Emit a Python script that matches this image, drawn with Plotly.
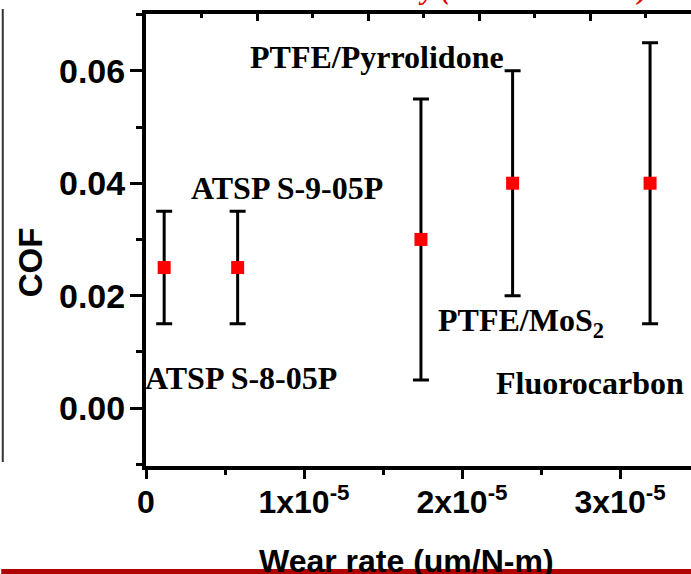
import plotly.graph_objects as go

# ---- data ----
materials = ["ATSP S-8-05P", "ATSP S-9-05P", "PTFE/Pyrrolidone", "PTFE/MoS2", "Fluorocarbon"]
wear_rate = [1.15e-6, 5.8e-6, 1.74e-5, 2.32e-5, 3.19e-5]
cof = [0.025, 0.025, 0.030, 0.040, 0.040]
cof_high = [0.035, 0.035, 0.055, 0.060, 0.065]
cof_low = [0.015, 0.015, 0.005, 0.020, 0.015]

label_text = ["ATSP S-8-05P", "ATSP S-9-05P", "PTFE/Pyrrolidone", "PTFE/MoS<sub>2</sub>", "Fluorocarbon"]
label_x = [0.60e-5, 0.89e-5, 1.46e-5, 2.37e-5, 2.81e-5]
label_y = [0.0053, 0.0392, 0.0624, 0.0152, 0.0044]

x_tickvals = [0, 1e-5, 2e-5, 3e-5]
x_ticktext = ["0", "1x10<sup>-5</sup>", "2x10<sup>-5</sup>", "3x10<sup>-5</sup>"]
y_tickvals = [0.00, 0.02, 0.04, 0.06]

err_plus = [h - c for h, c in zip(cof_high, cof)]
err_minus = [c - l for c, l in zip(cof, cof_low)]

SANS = "Arial, Liberation Sans, sans-serif"
SERIF = "Times New Roman, Liberation Serif, serif"

fig = go.Figure()
fig.add_trace(go.Scatter(
    x=wear_rate, y=cof, mode="markers",
    marker=dict(symbol="square", size=13, color="#FF0000", line=dict(width=0)),
    error_y=dict(type="data", symmetric=False, array=err_plus, arrayminus=err_minus,
                 color="black", thickness=3, width=8),
    showlegend=False, cliponaxis=False,
))
# invisible trace that carries the top axis
fig.add_trace(go.Scatter(x=[0], y=[0], xaxis="x2", mode="markers",
                         marker=dict(opacity=0), showlegend=False, hoverinfo="skip"))

for t, x, y in zip(label_text, label_x, label_y):
    fig.add_annotation(x=x, y=y, text=f"<b>{t}</b>", showarrow=False,
                       font=dict(family=SERIF, size=32, color="black"),
                       xanchor="center", yanchor="middle")

# axis titles
fig.add_annotation(xref="paper", yref="paper", x=(406 - 145) / 546, y=-(541 - 466) / 452,
                   text="<b>Wear rate (um/N-m)</b>", showarrow=False,
                   font=dict(family=SANS, size=32, color="black"),
                   xanchor="center", yanchor="top")
fig.add_annotation(xref="paper", yref="paper", x=-(145 - 29) / 546, y=(466 - 262) / 452,
                   text="<b>COF</b>", showarrow=False, textangle=-90,
                   font=dict(family=SANS, size=33, color="black"),
                   xanchor="center", yanchor="middle")
# cut-off red title at the top
fig.add_annotation(xref="paper", yref="paper", x=(650 - 145) / 546, y=1 + (14 - 7) / 452,
                   text="<b><i>Stability (ATSP vs. Others)</i></b>", showarrow=False,
                   font=dict(family=SERIF, size=28, color="#E00000"),
                   xanchor="right", yanchor="bottom")

# frame line at left and red bar at the bottom
fig.add_shape(type="line", xref="paper", yref="paper",
              x0=-(145 - 1.5) / 546, x1=-(145 - 1.5) / 546,
              y0=(466 - 462) / 452, y1=(466 - 9) / 452,
              line=dict(color="#333333", width=2))
fig.add_shape(type="rect", xref="paper", yref="paper",
              x0=-145 / 546, x1=1.0, y0=-(569 - 466) / 452, y1=-(574 - 466) / 452,
              line=dict(width=0), fillcolor="#B00000", layer="above")

fig.update_layout(
    width=691, height=574,
    margin=dict(l=146, r=0, t=14, b=108, pad=0),
    paper_bgcolor="white", plot_bgcolor="white",
    xaxis=dict(range=[0, 3.449e-5], tickvals=x_tickvals, ticktext=x_ticktext,
               showline=True, linecolor="black", linewidth=4, mirror=False,
               ticks="outside", ticklen=9, tickwidth=3, tickcolor="black",
               minor=dict(dtick=0.5e-5, tick0=0, ticks="outside", ticklen=5, tickwidth=3, tickcolor="black"),
               showgrid=False, zeroline=False,
               tickfont=dict(family=SANS, size=32, color="black", weight="bold"), ticklabelstandoff=-4),
    xaxis2=dict(overlaying="x", side="top", range=[0, 545 / 111], dtick=1, tick0=0,
                showline=True, linecolor="black", linewidth=4,
                ticks="inside", ticklen=7, tickwidth=3, tickcolor="black",
                minor=dict(dtick=0.5, ticks="inside", ticklen=4, tickwidth=3, tickcolor="black"),
                showticklabels=False, showgrid=False, zeroline=False),
    yaxis=dict(range=[-0.0103, 0.0701], tickvals=y_tickvals, tickformat=".2f",
               showline=True, linecolor="black", linewidth=4,
               ticks="outside", ticklen=12, tickwidth=3, tickcolor="black",
               minor=dict(dtick=0.01, tick0=0, ticks="outside", ticklen=6, tickwidth=3, tickcolor="black"),
               showgrid=False, zeroline=False, ticklabelstandoff=-2,
               tickfont=dict(family=SANS, size=34, color="black", weight="bold")),
)

fig.write_html("out.html")
